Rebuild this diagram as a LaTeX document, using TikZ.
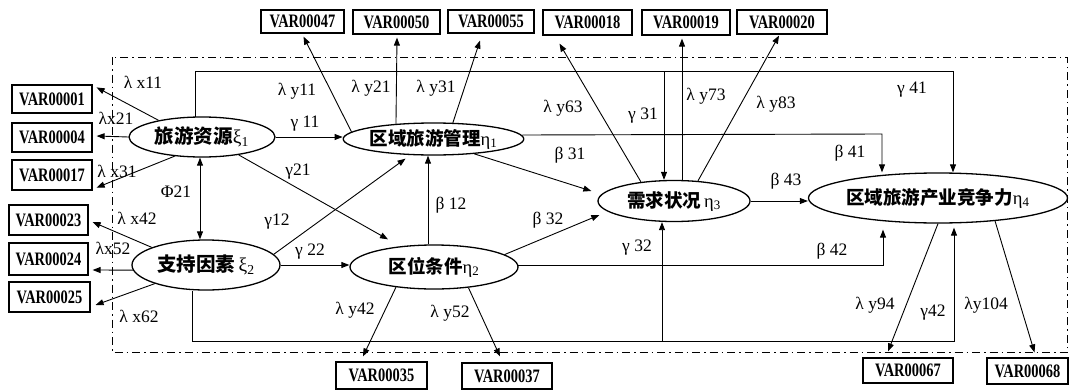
\documentclass[tikz,border=0pt]{standalone}
\usepackage{fontspec}
\setmainfont{Liberation Serif}
\newfontfamily\cjk{Noto Sans CJK SC}
\usetikzlibrary{arrows.meta,shapes.geometric,calc}
\newcommand{\vv}[1]{\scalebox{0.76}[1]{\bfseries #1}}
\begin{document}
\begin{tikzpicture}[x=1pt,y=-1pt,
  arr/.style={-{Triangle[length=8pt,width=6pt]}, line width=0.9pt},
  arrb/.style={{Triangle[length=8pt,width=6pt]}-{Triangle[length=8pt,width=6pt]}, line width=0.9pt},
  var/.style={draw, line width=1.2pt, fill=white, inner sep=0pt, font=\fontsize{19}{19}\selectfont},
  lat/.style={draw, ellipse, line width=1.3pt, inner sep=0pt, font=\fontsize{18.5}{18.5}\selectfont},
  lab/.style={font=\fontsize{17.5}{17.5}\selectfont, inner sep=0pt},
  frame/.style={line width=0.9pt, dash pattern=on 8pt off 4pt on 1.5pt off 4pt}]
\useasboundingbox (0,0) rectangle (1069,391);
\fill[white] (0,0) rectangle (1069,391);

% frame
\draw[frame] (112,57) rectangle (1067.5,352);

% boxes
\node[var, minimum width=83pt, minimum height=23pt] (v47) at (302.5,21.5) {\vv{VAR00047}};
\node[var, minimum width=87pt, minimum height=24pt] (v50) at (396.5,22) {\vv{VAR00050}};
\node[var, minimum width=86pt, minimum height=23pt] (v55) at (491,21.5) {\vv{VAR00055}};
\node[var, minimum width=89pt, minimum height=25pt] (v18) at (587.5,22.5) {\vv{VAR00018}};
\node[var, minimum width=88pt, minimum height=25pt] (v19) at (686,22.5) {\vv{VAR00019}};
\node[var, minimum width=90pt, minimum height=24pt] (v20) at (782,22) {\vv{VAR00020}};
\node[var, minimum width=80pt, minimum height=28pt] (v01) at (52,99) {\vv{VAR00001}};
\node[var, minimum width=80pt, minimum height=29pt] (v04) at (52,137.5) {\vv{VAR00004}};
\node[var, minimum width=80pt, minimum height=30pt] (v17) at (52,175) {\vv{VAR00017}};
\node[var, minimum width=79pt, minimum height=30pt] (v23) at (48.5,220) {\vv{VAR00023}};
\node[var, minimum width=79pt, minimum height=32pt] (v24) at (48.5,259) {\vv{VAR00024}};
\node[var, minimum width=81pt, minimum height=30pt] (v25) at (49.5,297) {\vv{VAR00025}};
\node[var, minimum width=91pt, minimum height=27pt] (v35) at (381.5,375.5) {\vv{VAR00035}};
\node[var, minimum width=90pt, minimum height=26pt] (v37) at (507,376) {\vv{VAR00037}};
\node[var, minimum width=90pt, minimum height=25pt] (v67) at (908,370.5) {\vv{VAR00067}};
\node[var, minimum width=81pt, minimum height=26pt] (v68) at (1027.5,371) {\vv{VAR00068}};

% latent variables
\node[lat, minimum width=146pt, minimum height=40pt, font=\fontsize{19.5}{19.5}\selectfont] (x1) at (202,137) {{\cjk\bfseries 旅游资源}ξ\textsubscript{1}};
\node[lat, minimum width=148pt, minimum height=50pt, font=\fontsize{19.5}{19.5}\selectfont] (x2) at (206,265) {{\cjk\bfseries 支持因素}\,ξ\textsubscript{2}};
\node[lat, minimum width=167pt, minimum height=32pt] (e1) at (433.5,139) {{\cjk\bfseries 区域旅游管理}η\textsubscript{1}};
\node[lat, minimum width=168pt, minimum height=44pt] (e2) at (434,267) {{\cjk\bfseries 区位条件}η\textsubscript{2}};
\node[lat, minimum width=152pt, minimum height=41pt] (e3) at (674,201) {{\cjk\bfseries 需求状况}\,η\textsubscript{3}};
\node[lat, minimum width=207pt, minimum height=50pt] (e4) at (938,198) {{\cjk\bfseries 区域旅游产业竞争力}η\textsubscript{4}};

% named corner coordinates
\coordinate (g41) at (953,71);
\coordinate (g42) at (954,341);
\coordinate (g31) at (664,71);
\coordinate (g32) at (662,341);
\coordinate (b41) at (882,134);
\coordinate (b42) at (883,265);

% exogenous measurement
\draw[arr] (x1.159) -- ($(v01.north east)+(4,3)$);
\draw[arr] (x1.west) -- ($(v04.east)+(4,-1.5)$);
\draw[arr] (x1.215) -- ($(v17.south east)+(4,-3)$);
\draw[arr] (x2.162) -- ($(v23.east)+(4,2)$);
\draw[arr] (x2.184) -- ($(v24.east)+(4,11)$);
\draw[arr] (x2.200) -- ($(v25.east)+(5,8)$);

% endogenous measurement
\draw[arr] (e1.175) -- ($(v47.south)+(1,3)$);
\draw[arr] (e1.158) -- ($(v50.south)+(0.5,3)$);
\draw[arr] (e1.40) -- ($(v55.south)+(-11,7)$);
\draw[arr] (e3.150) -- ($(v18.south)+(-28,8)$);
\draw[arr] ($(e3.north)+(8,0)$) -- ($(v19.south)+(-4,3)$);
\draw[arr] (e3.40) -- ($(v20.south)+(-3,1)$);
\draw[arr] (e2.208) -- ($(v35.north)+(-18.5,-5)$);
\draw[arr] (e2.-31) -- ($(v37.north)+(-7,-6)$);
\draw[arr] (e4.south) -- ($(v67.north)+(-20,-6)$);
\draw[arr] (e4.-22) -- ($(v68.north)+(7,-5)$);

% structural paths
\draw[arr] (x1.east) -- (x1.east -| e1.west);
\draw[arr] (x2.east) -- (x2.east -| e2.west);
\draw[arr] (x1.-26) -- ($(e2.north)+(-46,-5)$);
\draw[arr] (x2.9) -- ($(e1.south)+(-28,3)$);
\draw[arrb] ($(x1.south)+(-2,0)$) -- ($(x2.north)+(-6,0)$);
\draw[arr] ($(e2.north)+(-6,0)$) -- ($(e1.south)+(-5.5,0)$);
\draw[arr] (e1.-20) -- ($(e3.west)+(-6,-10)$);
\draw[arr] (e2.10) -- ($(e3.west)+(2,14)$);
\draw[arr] (e3.east) -- (e3.east -| e4.west);
\draw[arr] ($(e1.east)+(-2,-4)$) -- (b41) -- (b41 |- e4.north);
\draw[arr] ($(e2.east)+(-1,-2)$) -- (b42) -- ($(e4.south)+(-55,6)$);
\draw[arr] ($(x1.north)+(-7,0.5)$) |- (g41) -- (g41 |- e4.north);
\draw[arr] ($(x2.south)+(-14,0)$) |- (g42) -- ($(e4.south)+(16,4)$);
\draw[arr] (g31) -- (g31 |- e3.north);
\draw[arr] (g32) -- (g32 |- e3.south);

% labels
\node[lab] (lx11) at (143,82) {λ x11};
\node[lab] (lx21) at (116,118) {λx21};
\node[lab] (lx31) at (117,171) {λ x31};
\node[lab] (lphi) at (176,192) {Φ21};
\node[lab] (lx42) at (137,218) {λ x42};
\node[lab] (lx52) at (113,248) {λx52};
\node[lab] (lx62) at (139,316) {λ x62};
\node[lab] (ly11) at (297,91) {λ y11};
\node[lab] (lg11) at (305,124) {γ 11};
\node[lab] (lg21) at (298,172) {γ21};
\node[lab] (lg12) at (277,222) {γ12};
\node[lab] (lg22) at (310,252) {γ 22};
\node[lab] (ly21) at (371,88) {λ y21};
\node[lab] (ly31) at (436,88) {λ y31};
\node[lab] (lb12) at (451,205) {β 12};
\node[lab] (ly42) at (355,310) {λ y42};
\node[lab] (ly52) at (450,313) {λ y52};
\node[lab] (ly63) at (563,108) {λ y63};
\node[lab] (lg31) at (643,116) {γ 31};
\node[lab] (lb31) at (570,155) {β 31};
\node[lab] (lb32) at (548,220) {β 32};
\node[lab] (lg32) at (637,248) {γ 32};
\node[lab] (ly73) at (706,96) {λ y73};
\node[lab] (ly83) at (776,104) {λ y83};
\node[lab] (lg41) at (912,90) {γ 41};
\node[lab] (lb41) at (850,153) {β 41};
\node[lab] (lb43) at (786,181) {β 43};
\node[lab] (lb42) at (832,251) {β 42};
\node[lab] (ly94) at (875,305) {λ y94};
\node[lab] (lg42) at (933,313) {γ42};
\node[lab] (ly104) at (986,305) {λy104};
\end{tikzpicture}
\end{document}
